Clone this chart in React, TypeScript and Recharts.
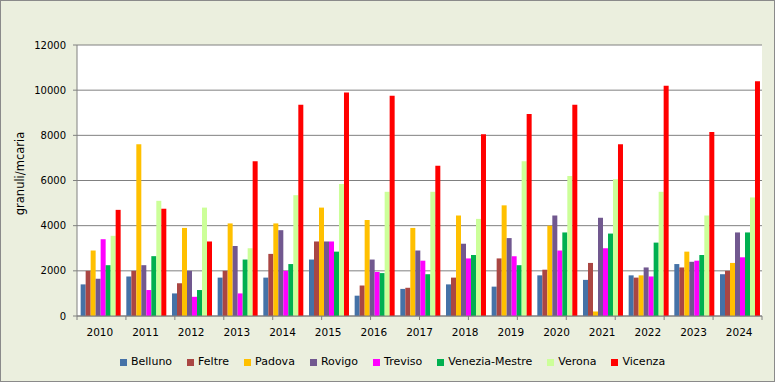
import React from 'react'
import { BarChart, Bar, XAxis, YAxis, CartesianGrid, Label } from 'recharts'

const years = ['2010', '2011', '2012', '2013', '2014', '2015', '2016', '2017', '2018', '2019', '2020', '2021', '2022', '2023', '2024']

const belluno = [1400, 1750, 1000, 1700, 1700, 2500, 900, 1200, 1400, 1300, 1800, 1600, 1800, 2300, 1850]
const feltre = [2000, 2000, 1450, 2000, 2750, 3300, 1350, 1250, 1700, 2550, 2050, 2350, 1700, 2150, 2000]
const padova = [2900, 7600, 3900, 4100, 4100, 4800, 4250, 3900, 4450, 4900, 4000, 200, 1800, 2850, 2350]
const rovigo = [1650, 2250, 2000, 3100, 3800, 3300, 2500, 2900, 3200, 3450, 4450, 4350, 2150, 2400, 3700]
const treviso = [3400, 1150, 850, 1000, 2000, 3300, 1950, 2450, 2550, 2650, 2900, 3000, 1750, 2450, 2600]
const venezia = [2250, 2650, 1150, 2500, 2300, 2850, 1900, 1850, 2700, 2250, 3700, 3650, 3250, 2700, 3700]
const verona = [3550, 5100, 4800, 3000, 5350, 5850, 5500, 5500, 4300, 6850, 6200, 6050, 5500, 4450, 5250]
const vicenza = [4700, 4750, 3300, 6850, 9350, 9900, 9750, 6650, 8050, 8950, 9350, 7600, 10200, 8150, 10400]

const yTicks = [0, 2000, 4000, 6000, 8000, 10000, 12000]

const series = [
  { key: 'Belluno', values: belluno, color: '#4572A7' },
  { key: 'Feltre', values: feltre, color: '#AA4643' },
  { key: 'Padova', values: padova, color: '#FFC000' },
  { key: 'Rovigo', values: rovigo, color: '#71588F' },
  { key: 'Treviso', values: treviso, color: '#FF00FF' },
  { key: 'Venezia-Mestre', values: venezia, color: '#00B050' },
  { key: 'Verona', values: verona, color: '#CCFF99' },
  { key: 'Vicenza', values: vicenza, color: '#FF0000' },
]

const data = years.map((year, i) => {
  const row: Record<string, string | number> = { year }
  series.forEach(s => { row[s.key] = s.values[i] })
  return row
})

// boundaries between the year groups, for the tick marks under the axis
const edges = years.map((_, i) => i).concat(years.length)

const font = '"DejaVu Sans", Verdana, sans-serif'

export default function App() {
  return (
    <div style={{ position: 'absolute', left: 0, top: 0, width: 775, height: 382, background: '#EBEFDE', border: '1px solid #8a8a8a', boxSizing: 'border-box', fontFamily: font }}>
      <div style={{ position: 'absolute', left: -1, top: -1 }}>
        <BarChart width={775} height={382} data={data} margin={{ top: 45, right: 13, bottom: 36, left: 0 }}
          barCategoryGap="8%" barGap={0}>
          <CartesianGrid vertical={false} stroke="#808080" fill="#ffffff" />
          <XAxis type="number" domain={[0, years.length]} ticks={edges} height={5} tickSize={4}
            tickFormatter={() => ''} stroke="#808080" />
          <XAxis xAxisId="cat" dataKey="year" height={25} axisLine={false} tickLine={false}
            tick={{ fill: '#000', fontSize: 10.5, fontFamily: font }} />
          <YAxis width={77} domain={[0, 12000]} ticks={yTicks} tickSize={4} tickMargin={7} stroke="#808080"
            tick={{ fill: '#000', fontSize: 10, fontFamily: font }}>
            <Label value="granuli/mcaria" angle={-90} position="insideLeft" offset={20} dy={-7}
              style={{ fill: '#000', fontSize: 11.5, fontFamily: font, textAnchor: 'middle' }} />
          </YAxis>
          {series.map(s => (
            <Bar key={s.key} xAxisId="cat" dataKey={s.key} fill={s.color} isAnimationActive={false} />
          ))}
        </BarChart>
      </div>
      <div style={{ position: 'absolute', top: 354, left: 119, display: 'flex', fontSize: 11, lineHeight: '14px', color: '#000' }}>
        {series.map(s => (
          <div key={s.key} style={{ display: 'flex', alignItems: 'center', marginRight: 15 }}>
            <span style={{ display: 'inline-block', width: 7, height: 7, background: s.color, marginRight: 4 }} />
            <span>{s.key}</span>
          </div>
        ))}
      </div>
    </div>
  )
}
